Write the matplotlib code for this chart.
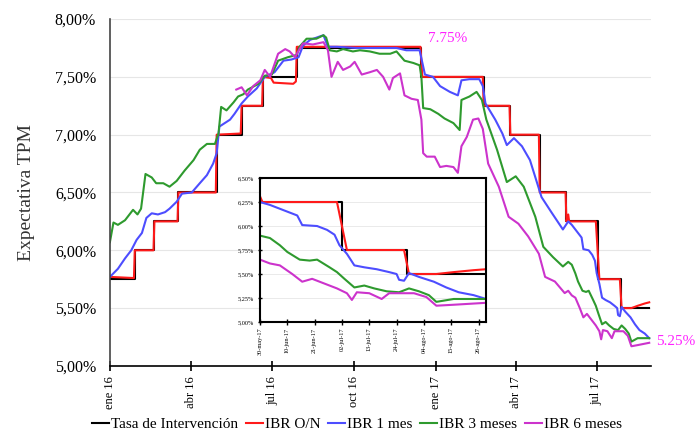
import numpy as np
import pandas as pd
import matplotlib
matplotlib.use("Agg")
import matplotlib.pyplot as plt
from matplotlib.ticker import FuncFormatter, MultipleLocator
from matplotlib.lines import Line2D

plt.rcParams['font.family'] = ['Liberation Serif', 'DejaVu Serif']

# ---------------------------------------------------------------
#   data
# ---------------------------------------------------------------

tpm_dates = ['2016-01-01', '2016-01-29', '2016-02-20', '2016-03-18', '2016-04-30', '2016-05-28',
             '2016-06-21', '2016-07-29', '2016-12-16', '2017-02-24', '2017-03-26', '2017-04-28',
             '2017-05-28', '2017-07-02', '2017-07-28', '2017-08-29']
tpm_vals = [5.75, 6.00, 6.25, 6.50, 7.00, 7.25, 7.50, 7.75, 7.50, 7.25, 7.00, 6.50, 6.25, 5.75, 5.50, 5.50]

on_dates = ['2016-01-01', '2016-01-28', '2016-01-29', '2016-02-19', '2016-02-20', '2016-03-17',
            '2016-03-18', '2016-04-29', '2016-04-30', '2016-05-27', '2016-05-28', '2016-06-20',
            '2016-06-21', '2016-06-30', '2016-07-03', '2016-07-25', '2016-07-28', '2016-07-29',
            '2016-12-15', '2016-12-17', '2017-02-23', '2017-02-24', '2017-03-25', '2017-03-26',
            '2017-04-27', '2017-04-28', '2017-05-27', '2017-05-28', '2017-05-30', '2017-05-31',
            '2017-06-30', '2017-07-04', '2017-07-27', '2017-07-29', '2017-08-09', '2017-08-16',
            '2017-08-24', '2017-08-29']
on_vals = [5.77, 5.76, 6.00, 6.00, 6.25, 6.25,
           6.50, 6.50, 7.00, 7.01, 7.25, 7.25,
           7.50, 7.49, 7.45, 7.44, 7.46, 7.76,
           7.76, 7.50, 7.50, 7.25, 7.25, 7.00,
           7.00, 6.50, 6.50, 6.25, 6.31, 6.25,
           6.25, 5.75, 5.75, 5.50, 5.50, 5.52,
           5.54, 5.55]

m1_dates = ['2016-01-01', '2016-01-10', '2016-01-18', '2016-01-25', '2016-01-31', '2016-02-06',
            '2016-02-11', '2016-02-17', '2016-02-24', '2016-03-03', '2016-03-08', '2016-03-16',
            '2016-03-22', '2016-04-02', '2016-04-11', '2016-04-19', '2016-04-26', '2016-04-30',
            '2016-05-03', '2016-05-09', '2016-05-15', '2016-05-20', '2016-05-28', '2016-06-04',
            '2016-06-14', '2016-06-23', '2016-07-04', '2016-07-14', '2016-07-23', '2016-07-31',
            '2016-08-05', '2016-08-13', '2016-08-24', '2016-08-28', '2016-09-02', '2016-09-12',
            '2016-10-04', '2016-10-27', '2016-11-18', '2016-11-29', '2016-12-14', '2016-12-20',
            '2016-12-29', '2017-01-06', '2017-01-17', '2017-01-26', '2017-01-30', '2017-02-08',
            '2017-02-19', '2017-02-23', '2017-02-26', '2017-03-09', '2017-03-17', '2017-03-22',
            '2017-03-30', '2017-04-08', '2017-04-17', '2017-04-30', '2017-05-11', '2017-05-24',
            '2017-05-30', '2017-06-03', '2017-06-10', '2017-06-14', '2017-06-16', '2017-06-22',
            '2017-06-26', '2017-06-29', '2017-07-01', '2017-07-04', '2017-07-07', '2017-07-11',
            '2017-07-16', '2017-07-21', '2017-07-24', '2017-07-25', '2017-07-27', '2017-07-29',
            '2017-08-02', '2017-08-08', '2017-08-13', '2017-08-18', '2017-08-24', '2017-08-29']
m1_vals = [5.77, 5.84, 5.93, 6.00, 6.09, 6.15,
           6.28, 6.32, 6.31, 6.33, 6.36, 6.42,
           6.49, 6.50, 6.58, 6.65, 6.75, 6.84,
           7.07, 7.10, 7.13, 7.18, 7.27, 7.33,
           7.40, 7.50, 7.54, 7.64, 7.65, 7.67,
           7.77, 7.82, 7.85, 7.86, 7.76, 7.76,
           7.75, 7.75, 7.75, 7.73, 7.73, 7.52,
           7.50, 7.42, 7.37, 7.34, 7.47, 7.48,
           7.48, 7.42, 7.27, 7.13, 7.01, 6.91,
           6.97, 6.90, 6.78, 6.46, 6.33, 6.18,
           6.25, 6.22, 6.15, 6.11, 6.01, 6.00,
           5.96, 5.91, 5.80, 5.71, 5.59, 5.57,
           5.55, 5.52, 5.50, 5.44, 5.43, 5.51,
           5.47, 5.42, 5.36, 5.31, 5.28, 5.24]

m3_dates = ['2016-01-01', '2016-01-05', '2016-01-10', '2016-01-18', '2016-01-23', '2016-01-27',
            '2016-02-01', '2016-02-05', '2016-02-10', '2016-02-17', '2016-02-22', '2016-03-01',
            '2016-03-08', '2016-03-16', '2016-03-25', '2016-04-04', '2016-04-11', '2016-04-19',
            '2016-04-28', '2016-05-02', '2016-05-05', '2016-05-11', '2016-05-19', '2016-05-24',
            '2016-05-30', '2016-06-04', '2016-06-16', '2016-06-23', '2016-07-01', '2016-07-08',
            '2016-07-19', '2016-07-29', '2016-08-01', '2016-08-09', '2016-08-20', '2016-08-28',
            '2016-08-31', '2016-09-04', '2016-09-12', '2016-09-19', '2016-09-30', '2016-10-08',
            '2016-10-19', '2016-10-30', '2016-11-11', '2016-11-18', '2016-11-27', '2016-12-07',
            '2016-12-14', '2016-12-16', '2016-12-18', '2016-12-26', '2017-01-04', '2017-01-11',
            '2017-01-21', '2017-01-28', '2017-01-30', '2017-02-08', '2017-02-16', '2017-02-22',
            '2017-02-27', '2017-03-11', '2017-03-22', '2017-04-01', '2017-04-10', '2017-04-23',
            '2017-05-02', '2017-05-13', '2017-05-24',
            '2017-05-30', '2017-06-03', '2017-06-07', '2017-06-10', '2017-06-15', '2017-06-19',
            '2017-06-22', '2017-06-27', '2017-06-30', '2017-07-03', '2017-07-07', '2017-07-11',
            '2017-07-15', '2017-07-20', '2017-07-25', '2017-07-29', '2017-08-02', '2017-08-06',
            '2017-08-09', '2017-08-16', '2017-08-23', '2017-08-29']
m3_vals = [6.07, 6.24, 6.22, 6.26, 6.31, 6.35,
           6.31, 6.36, 6.66, 6.63, 6.58, 6.58,
           6.55, 6.60, 6.69, 6.78, 6.87, 6.92,
           6.92, 7.01, 7.24, 7.21, 7.28, 7.33,
           7.35, 7.39, 7.44, 7.51, 7.52, 7.64,
           7.67, 7.69, 7.76, 7.83, 7.83, 7.86,
           7.84, 7.73, 7.72, 7.74, 7.72, 7.73,
           7.72, 7.70, 7.70, 7.72, 7.64, 7.62,
           7.60, 7.50, 7.23, 7.22, 7.18, 7.14,
           7.10, 7.04, 7.30, 7.33, 7.37, 7.30,
           7.13, 6.87, 6.59, 6.64, 6.55, 6.29,
           6.03, 5.94, 5.86,
           5.90, 5.875, 5.80, 5.73, 5.65, 5.64,
           5.65, 5.57, 5.52, 5.45, 5.36, 5.38,
           5.35, 5.32, 5.31, 5.35, 5.32, 5.28,
           5.21, 5.24, 5.24, 5.24]

m6_dates = ['2016-05-22', '2016-05-28', '2016-06-03', '2016-06-10', '2016-06-18', '2016-06-23',
            '2016-06-29', '2016-07-08', '2016-07-16', '2016-07-21', '2016-07-27', '2016-08-01',
            '2016-08-05', '2016-08-16', '2016-08-28', '2016-09-02', '2016-09-06', '2016-09-13',
            '2016-09-19', '2016-09-27', '2016-10-02', '2016-10-10', '2016-10-19', '2016-10-27',
            '2016-11-03', '2016-11-10', '2016-11-14', '2016-11-22', '2016-11-27', '2016-12-05',
            '2016-12-12', '2016-12-16', '2016-12-18', '2016-12-22', '2016-12-31', '2017-01-06',
            '2017-01-13', '2017-01-21', '2017-01-26', '2017-01-30', '2017-02-05', '2017-02-12',
            '2017-02-18', '2017-02-23', '2017-03-01', '2017-03-13', '2017-03-24', '2017-04-04',
            '2017-04-15', '2017-04-27', '2017-05-04', '2017-05-15', '2017-05-26',
            '2017-05-30', '2017-06-03', '2017-06-07', '2017-06-12', '2017-06-16', '2017-06-20',
            '2017-06-24', '2017-06-30', '2017-07-04', '2017-07-06', '2017-07-08', '2017-07-13',
            '2017-07-18', '2017-07-21', '2017-07-27', '2017-07-31', '2017-08-05', '2017-08-09',
            '2017-08-16', '2017-08-29']
m6_vals = [7.39, 7.41, 7.34, 7.42, 7.47, 7.56,
           7.50, 7.70, 7.74, 7.72, 7.67, 7.74,
           7.79, 7.78, 7.80, 7.73, 7.50, 7.63,
           7.56, 7.59, 7.63, 7.52, 7.54, 7.56,
           7.50, 7.39, 7.49, 7.53, 7.34, 7.31,
           7.30, 7.13, 6.84, 6.81, 6.81, 6.72,
           6.73, 6.72, 6.67, 6.90, 6.98, 7.13,
           7.14, 7.05, 6.75, 6.55, 6.29, 6.23,
           6.12, 5.97, 5.77, 5.73, 5.63,
           5.65, 5.61, 5.59, 5.50, 5.42, 5.45,
           5.41, 5.35, 5.30, 5.23, 5.31, 5.30,
           5.24, 5.30, 5.30, 5.30, 5.26, 5.17,
           5.18, 5.20]

series = [
    ('Tasa de Intervención', tpm_dates, tpm_vals, 'black'),
    ('IBR O/N', on_dates, on_vals, '#ff1a1a'),
    ('IBR 1 mes', m1_dates, m1_vals, '#4d4dff'),
    ('IBR 3 meses', m3_dates, m3_vals, '#2e9a2e'),
    ('IBR 6 meses', m6_dates, m6_vals, '#cc33cc'),
]

xtick_dates = ['2016-01-01', '2016-04-01', '2016-07-01', '2016-10-01', '2017-01-01', '2017-04-01', '2017-07-01']
xtick_labels = ['ene 16', 'abr 16', 'jul 16', 'oct 16', 'ene 17', 'abr 17', 'jul 17']

inset_tick_dates = ['2017-05-30', '2017-06-10', '2017-06-21', '2017-07-02', '2017-07-13',
                    '2017-07-24', '2017-08-04', '2017-08-15', '2017-08-26']
inset_tick_labels = ['30-may-17', '10-jun-17', '21-jun-17', '02-jul-17', '13-jul-17',
                     '24-jul-17', '04-ago-17', '15-ago-17', '26-ago-17']


def pct(v, pos):
    return ('%.2f%%' % v).replace('.', ',')


def draw(ax, lw):
    for name, d, v, c in series:
        kw = {'drawstyle': 'steps-post'} if name == 'Tasa de Intervención' else {}
        ax.plot(pd.to_datetime(d), v, color=c, lw=lw, **kw)


# ---------------------------------------------------------------
#   main chart
# ---------------------------------------------------------------

fig = plt.figure(figsize=(7, 4.43), dpi=100)
ax = fig.add_axes([0.157, 0.174, 0.773, 0.783])

draw(ax, 1.5)

ax.set_ylim(5.0, 8.0)
ax.set_xlim(pd.Timestamp('2016-01-01'), pd.Timestamp('2017-08-31'))
ax.yaxis.set_major_locator(MultipleLocator(0.5))
ax.yaxis.set_major_formatter(FuncFormatter(pct))
ax.grid(axis='y', color='#e6e6e6', lw=0.8)
ax.set_axisbelow(True)
ax.set_xticks(pd.to_datetime(xtick_dates))
ax.set_xticklabels(xtick_labels, rotation=90, fontsize=9)
ax.tick_params(axis='x', direction='inout', length=7, width=1.2, pad=4)
ax.tick_params(axis='y', length=0, labelsize=11.5, pad=10)
for s in ['top', 'right']:
    ax.spines[s].set_visible(False)
ax.spines['left'].set_color('#444444')
ax.spines['left'].set_linewidth(1.2)
ax.spines['bottom'].set_linewidth(1.2)
ax.set_ylabel('Expectativa TPM', fontsize=14, labelpad=14, color='#333333')

ax.text(pd.Timestamp('2017-01-15'), 7.835, '7.75%', color='#ff22ff', fontsize=11, ha='center', va='center')
ax.text(pd.Timestamp('2017-09-28'), 5.21, '5.25%', color='#ff22ff', fontsize=11, ha='center', va='center',
        clip_on=False)

# ---------------------------------------------------------------
#   inset
# ---------------------------------------------------------------

axi = fig.add_axes([0.3714, 0.2731, 0.3229, 0.325])
draw(axi, 1.5)
axi.set_ylim(5.0, 6.5)
axi.set_xlim(pd.Timestamp('2017-05-30'), pd.Timestamp('2017-08-29'))
axi.yaxis.set_major_locator(MultipleLocator(0.25))
axi.yaxis.set_major_formatter(FuncFormatter(pct))
axi.grid(axis='y', color='#e6e6e6', lw=0.6)
axi.set_axisbelow(True)
axi.set_xticks(pd.to_datetime(inset_tick_dates))
axi.set_xticklabels(inset_tick_labels, rotation=90, fontsize=4.5)
axi.tick_params(axis='x', direction='inout', length=4, width=1, pad=2)
axi.tick_params(axis='y', direction='inout', length=3, width=1, labelsize=4.5, pad=3)
for s in axi.spines.values():
    s.set_linewidth(1.5)

# ---------------------------------------------------------------
#   legend
# ---------------------------------------------------------------

handles = [Line2D([], [], color=c, lw=1.5) for _, _, _, c in series]
fig.legend(handles, [n for n, _, _, _ in series], loc='lower center', bbox_to_anchor=(0.51, -0.005),
           ncol=5, frameon=False, fontsize=11, handlelength=1.1, handletextpad=0.15, columnspacing=0.5)

fig.savefig('out.png', dpi=100)
